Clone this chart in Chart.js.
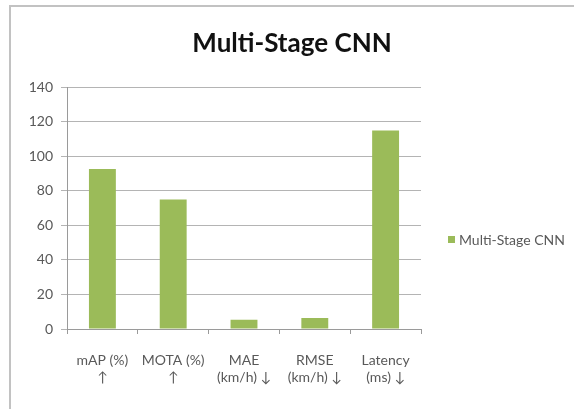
<!DOCTYPE html>
<html>
<head>
<meta charset="utf-8">
<script src="https://cdn.jsdelivr.net/npm/chart.js@4/dist/chart.umd.min.js"></script>
<style>
  html, body { margin: 0; padding: 0; background: #ffffff; }
  #wrap { position: relative; width: 574px; height: 409px; overflow: hidden; }
  #frame {
    position: absolute; left: 9px; top: 5px; width: 700px; height: 600px;
    border-left: 2px solid #c2c2c2; border-top: 2px solid #c2c2c2;
    pointer-events: none;
  }
  canvas { position: absolute; left: 0; top: 0; }
</style>
</head>
<body>
<div id="wrap">
  <canvas id="chart" width="574" height="409"></canvas>
  <div id="frame"></div>
</div>
<script>
// Metric categories (two-line labels) and measured values
const categories = [
  ["mAP (%)", "↑"],
  ["MOTA (%)", "↑"],
  ["MAE", "(km/h) ↓"],
  ["RMSE", "(km/h) ↓"],
  ["Latency", "(ms) ↓"]
];
const seriesName = "Multi-Stage CNN";
const seriesValues = [92.7, 75, 5.4, 6.4, 115];
const yTicks = [0, 20, 40, 60, 80, 100, 120, 140];

const FONT = "Lato, 'Open Sans', sans-serif";
const GREEN = "#9bbb59";
const TEXT = "#595959";

// Right-hand legend entry drawn beside the plot
const sideLegend = {
  id: "sideLegend",
  afterDraw(chart) {
    const ctx = chart.ctx;
    const y = 240;
    ctx.save();
    ctx.fillStyle = GREEN;
    ctx.fillRect(448, y - 4, 7, 7);
    ctx.fillStyle = TEXT;
    ctx.font = "14px " + FONT;
    ctx.textBaseline = "middle";
    ctx.textAlign = "left";
    ctx.fillText(chart.data.datasets[0].label, 459, y);
    ctx.restore();
  }
};

new Chart(document.getElementById("chart"), {
  type: "bar",
  data: {
    labels: categories,
    datasets: [{
      label: seriesName,
      data: seriesValues,
      backgroundColor: GREEN,
      borderWidth: 0,
      categoryPercentage: 1.0,
      barPercentage: 0.38
    }]
  },
  options: {
    responsive: false,
    animation: false,
    devicePixelRatio: 1,
    layout: { padding: { left: 10, right: 0, top: 0, bottom: 20 } },
    plugins: {
      legend: { display: false },
      tooltip: { enabled: false },
      title: {
        display: true,
        text: "Multi-Stage CNN",
        color: "#111111",
        font: { family: FONT, size: 26, weight: "bold" },
        padding: { top: 28, bottom: 28 }
      }
    },
    scales: {
      x: {
        grid: {
          display: true,
          drawOnChartArea: false,
          drawTicks: true,
          tickLength: 5,
          color: "#9a9a9a",
          offset: true
        },
        border: { display: true, color: "#9a9a9a", width: 1 },
        ticks: {
          color: TEXT,
          font: { family: FONT, size: 14, lineHeight: 1.2 },
          padding: 18,
          maxRotation: 0,
          autoSkip: false
        },
        afterFit(scale) { scale.height = 60; }
      },
      y: {
        min: 0,
        max: 140,
        afterBuildTicks(scale) { scale.ticks = yTicks.map(v => ({ value: v })); },
        grid: {
          color: "#b4b4b4",
          lineWidth: 1,
          drawTicks: true,
          tickLength: 6
        },
        border: { display: true, color: "#9a9a9a", width: 1 },
        ticks: {
          color: TEXT,
          font: { family: FONT, size: 14 },
          padding: 8
        },
        afterFit(scale) { scale.width = 57; }
      },
      // empty right-hand band that keeps room for the legend
      legendSpace: {
        type: "linear",
        position: "right",
        display: true,
        grid: { display: false },
        border: { display: false },
        ticks: { display: false },
        afterFit(scale) { scale.width = 153; }
      }
    }
  },
  plugins: [sideLegend]
});
</script>
</body>
</html>
